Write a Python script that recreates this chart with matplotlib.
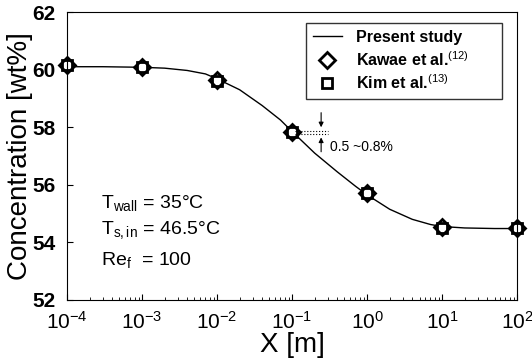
import numpy as np
import matplotlib.pyplot as plt

plt.rcParams['font.family'] = ['Liberation Sans', 'DejaVu Sans']
plt.rcParams['mathtext.fontset'] = 'custom'
plt.rcParams['mathtext.rm'] = 'Liberation Sans'
plt.rcParams['mathtext.it'] = 'Liberation Sans'
plt.rcParams['mathtext.bf'] = 'Liberation Sans:bold'

# measured points
x_pts = [1e-4, 1e-3, 1e-2, 1e-1, 1e0, 1e1, 1e2]
kawae = [60.15, 60.1, 59.65, 57.85, 55.7, 54.55, 54.5]
kim = [60.15, 60.1, 59.6, 57.85, 55.7, 54.5, 54.5]

# present study curve
x_line = [1e-4, 3e-4, 1e-3, 2e-3, 4e-3, 7e-3, 1e-2, 2e-2, 4e-2, 7e-2, 1e-1,
          2e-1, 4e-1, 7e-1, 1, 2, 4, 7, 10, 20, 50, 100]
y_line = [60.1, 60.1, 60.08, 60.05, 59.97, 59.85, 59.68, 59.3, 58.75, 58.25, 57.85,
          57.1, 56.45, 55.95, 55.65, 55.15, 54.8, 54.62, 54.55, 54.5, 54.48, 54.48]

yticks = [52, 54, 56, 58, 60, 62]

fig = plt.figure(figsize=(5.32, 3.64), dpi=100)
ax = fig.add_axes([0.126, 0.176, 0.846, 0.791])

ax.plot(x_line, y_line, color='black', lw=1.0, label='Present study')
ax.plot(x_pts, kawae, 'D', ms=8, mfc='white', mec='black', mew=2.0,
        clip_on=False, label='Kawae et al.$^{(12)}$')
ax.plot(x_pts, kim, 's', ms=7, mfc='none', mec='black', mew=2.0,
        clip_on=False, label='Kim et al.$^{(13)}$')

ax.set_xscale('log')
ax.set_xlim(1e-4, 1e2)
ax.set_ylim(52, 62)
ax.set_yticks(yticks)
ax.set_xticks(x_pts)
ax.tick_params(which='both', direction='in', labelsize=15)
ax.tick_params(axis='x', which='major', length=4, pad=8)
ax.tick_params(axis='y', which='major', length=4, pad=8)
ax.tick_params(which='minor', length=2)
for lab in ax.get_yticklabels():
    lab.set_fontweight('bold')

ax.set_xlabel('X [m]', fontsize=20, labelpad=-1)
ax.set_ylabel('Concentration [wt%]', fontsize=20, labelpad=0)

# conditions
ax.text(2.8e-4, 55.37, r'T$_{\mathrm{wall}}$ = 35°C', fontsize=14, va='center')
ax.text(2.8e-4, 54.43, r'T$_{\mathrm{s,in}}$ = 46.5°C', fontsize=14, va='center')
ax.text(2.8e-4, 53.39, r'Re$_{\mathrm{f}}$  = 100', fontsize=14, va='center')

# error annotation
ax.plot([0.11, 0.30], [57.87, 57.87], ls=':', color='black', lw=0.8)
ax.plot([0.11, 0.30], [57.77, 57.77], ls=':', color='black', lw=0.8)
ax.annotate('', xy=(0.244, 57.9), xytext=(0.244, 58.6),
            arrowprops=dict(arrowstyle='-|>', color='black', lw=0.8, mutation_scale=7))
ax.annotate('', xy=(0.244, 57.74), xytext=(0.244, 57.05),
            arrowprops=dict(arrowstyle='-|>', color='black', lw=0.8, mutation_scale=7))
ax.text(0.32, 57.3, '0.5 ~0.8%', fontsize=10, va='center')

leg = ax.legend(loc='upper left', fontsize=11.5, frameon=True, fancybox=False,
                edgecolor='black', handlelength=1.8, handletextpad=0.9,
                borderpad=0.45, labelspacing=0.3, mode='expand',
                bbox_to_anchor=(0.513, 0.694, 0.471, 0.296))
leg.get_frame().set_linewidth(1.0)
for t in leg.get_texts():
    t.set_fontweight('bold')

fig.savefig('out.png', dpi=100)
